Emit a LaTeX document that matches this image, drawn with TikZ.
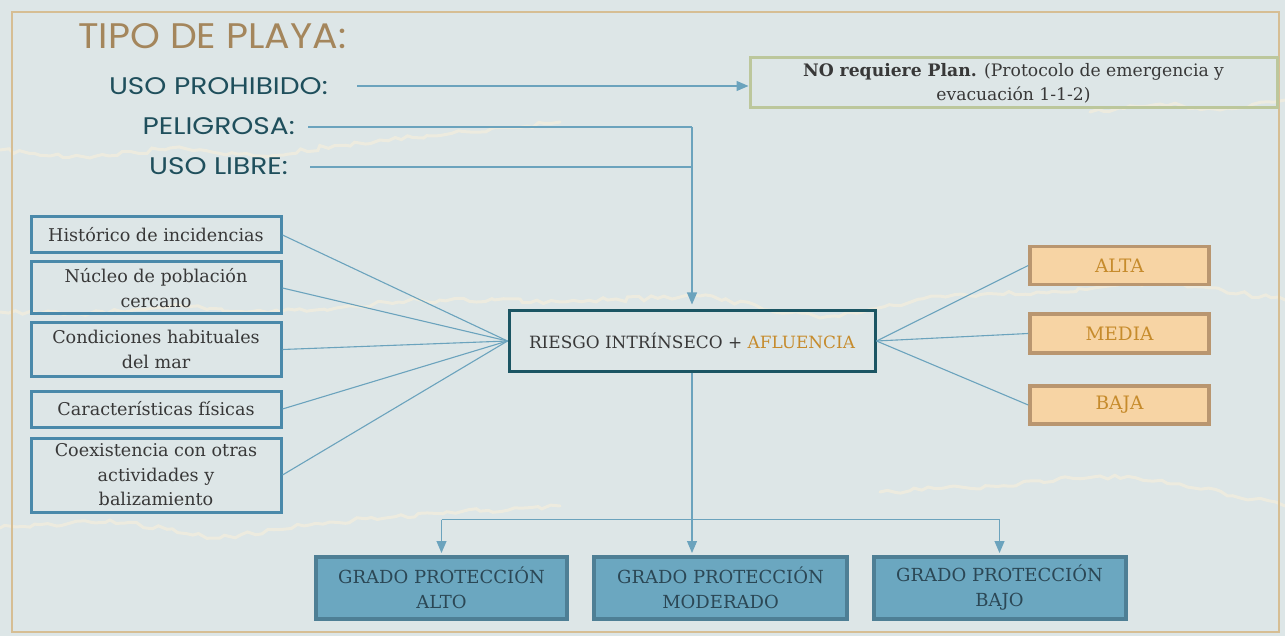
\documentclass[tikz,border=0pt]{standalone}
\usepackage{fontspec}
\setmainfont{DejaVu Serif}
\newfontfamily\headfont[FakeStretch=1.17]{Poppins}
\newfontfamily\titlefont[FakeStretch=1.07]{Poppins}
\usetikzlibrary{arrows.meta,decorations.pathmorphing}
\definecolor{bg}{HTML}{DDE6E7}
\definecolor{framec}{HTML}{D6BE94}
\definecolor{titlec}{HTML}{A4865C}
\definecolor{usoc}{HTML}{1F4F5C}
\definecolor{linec}{HTML}{6BA3BD}
\definecolor{bodyc}{HTML}{383838}
\definecolor{goldc}{HTML}{C68B2C}
\definecolor{leftb}{HTML}{4A89AA}
\definecolor{centb}{HTML}{1B5563}
\definecolor{rightf}{HTML}{F7D4A4}
\definecolor{rightb}{HTML}{B99670}
\definecolor{botf}{HTML}{6BA7C0}
\definecolor{botb}{HTML}{4E7F95}
\definecolor{botc}{HTML}{2B4755}
\definecolor{nob}{HTML}{BCC79C}
\definecolor{streak}{HTML}{F4EEDC}
\tikzset{
  serif/.style={font=\fontsize{17.3}{24.5}\selectfont, text=bodyc, align=center, inner sep=0pt},
  leftbox/.style={serif, font=\fontsize{17.6}{24.5}\selectfont, draw=leftb, line width=3pt, minimum width=250pt},
  centbox/.style={serif, font=\fontsize{16.9}{24.5}\selectfont, draw=centb, line width=3pt, minimum width=366pt, minimum height=60pt},
  rightbox/.style={serif, font=\fontsize{18.5}{24.5}\selectfont, fill=rightf, draw=rightb, line width=3.5pt, minimum width=179pt, minimum height=38pt, text=goldc},
  botbox/.style={serif, font=\fontsize{18}{25}\selectfont, fill=botf, draw=botb, line width=4pt, minimum height=62pt, text=botc},
  nobox/.style={serif, font=\fontsize{17.2}{24}\selectfont, draw=nob, line width=3pt, minimum width=527pt, minimum height=50pt},
  usotext/.style={font=\headfont\fontsize{24}{28}\selectfont, text=usoc, inner sep=0pt},
  conn/.style={draw=linec, line width=1.1pt},
  arr/.style={conn, -{Triangle[length=12pt,width=10pt]}},
  deco/.style={draw=streak, opacity=0.7, line width=3pt, line cap=round, decorate,
    decoration={random steps, segment length=7pt, amplitude=2.5pt}}
}
\begin{document}
\begin{tikzpicture}[x=1pt,y=-1pt]
\fill[bg] (0,0) rectangle (1285,636);
\useasboundingbox (0,0) rectangle (1285,636);
% decorative streaks
\draw[deco] (0,150) -- (90,158) -- (170,148) -- (260,156) -- (380,140) -- (470,132) -- (560,122);
\draw[deco] (1090,112) -- (1160,104) -- (1220,110) -- (1285,100);
\draw[deco] (0,312) -- (80,314) -- (170,306) -- (280,312) -- (420,300) -- (560,302) -- (700,296) -- (820,318) -- (940,296) -- (1060,292) -- (1160,282) -- (1285,300);
\draw[deco] (0,528) -- (110,520) -- (220,538) -- (330,522) -- (460,512) -- (560,506);
\draw[deco] (880,492) -- (990,486) -- (1100,476) -- (1180,484) -- (1285,506);
\draw[framec, line width=2pt] (12,12) rectangle (1279,632);
% headings
\node[font=\titlefont\fontsize{35.5}{40}\selectfont, text=titlec, anchor=base west, inner sep=0pt] (title) at (78,49) {TIPO DE PLAYA:};
\node[usotext, anchor=east] (up) at (328,86) {USO PROHIBIDO:};
\node[usotext, anchor=east] (pel) at (295,126) {PELIGROSA:};
\node[usotext, anchor=east] (lib) at (288,166) {USO LIBRE:};
% boxes
\node[nobox] (no) at (1013.5,83) {\textbf{NO requiere Plan.} (Protocolo de emergencia y\\evacuación 1-1-2)};
\node[centbox] (riesgo) at (692,341) {RIESGO INTRÍNSECO + \textcolor{goldc}{AFLUENCIA}};
\node[leftbox, minimum height=36pt] (l1) at (156,235) {Histórico de incidencias};
\node[leftbox, minimum height=52pt] (l2) at (156,288) {Núcleo de población\\cercano};
\node[leftbox, minimum height=53pt] (l3) at (156,349.5) {Condiciones habituales\\del mar};
\node[leftbox, minimum height=36pt] (l4) at (156,409) {Características físicas};
\node[leftbox, minimum height=74pt] (l5) at (156,475) {Coexistencia con otras\\actividades y\\balizamiento};
\node[rightbox] (alta) at (1119.5,265.5) {ALTA};
\node[rightbox, minimum height=39pt] (media) at (1119.5,333.5) {MEDIA};
\node[rightbox] (baja) at (1119.5,405) {BAJA};
\node[botbox, minimum width=251pt] (galto) at (441.5,588) {GRADO PROTECCIÓN\\ALTO};
\node[botbox, minimum width=253pt] (gmod) at (720.5,588) {GRADO PROTECCIÓN\\MODERADO};
\node[botbox, minimum width=252pt] (gbajo) at (999.5,588) {GRADO PROTECCIÓN\\BAJO};
% connectors
\coordinate (ups) at ([xshift=29pt]up.east);
\draw[arr] (ups) -- (ups -| no.west);
\coordinate (pels) at ([xshift=13pt,yshift=-1pt]pel.east);
\coordinate (libs) at ([xshift=22pt,yshift=-1pt]lib.east);
\draw[conn] (pels) -- (pels -| riesgo.north);
\draw[conn] (libs) -- (libs -| riesgo.north);
\draw[arr, shorten >=5pt] (pels -| riesgo.north) -- (riesgo.north);
\foreach \n in {l1,l2,l3,l4,l5} \draw[conn] (\n.east) -- (riesgo.west);
\foreach \n in {alta,media,baja} \draw[conn] (riesgo.east) -- (\n.west);
\coordinate (j) at ([yshift=-147pt]riesgo.south);
\draw[conn] (riesgo.south) -- (j);
\draw[conn] (j -| galto.north) -- (j -| gbajo.north);
\draw[arr, shorten >=2pt] (j -| galto.north) -- (galto.north);
\draw[arr, shorten >=2pt] (j) -- (j |- gmod.north);
\draw[arr, shorten >=2pt] (j -| gbajo.north) -- (gbajo.north);
\end{tikzpicture}
\end{document}
